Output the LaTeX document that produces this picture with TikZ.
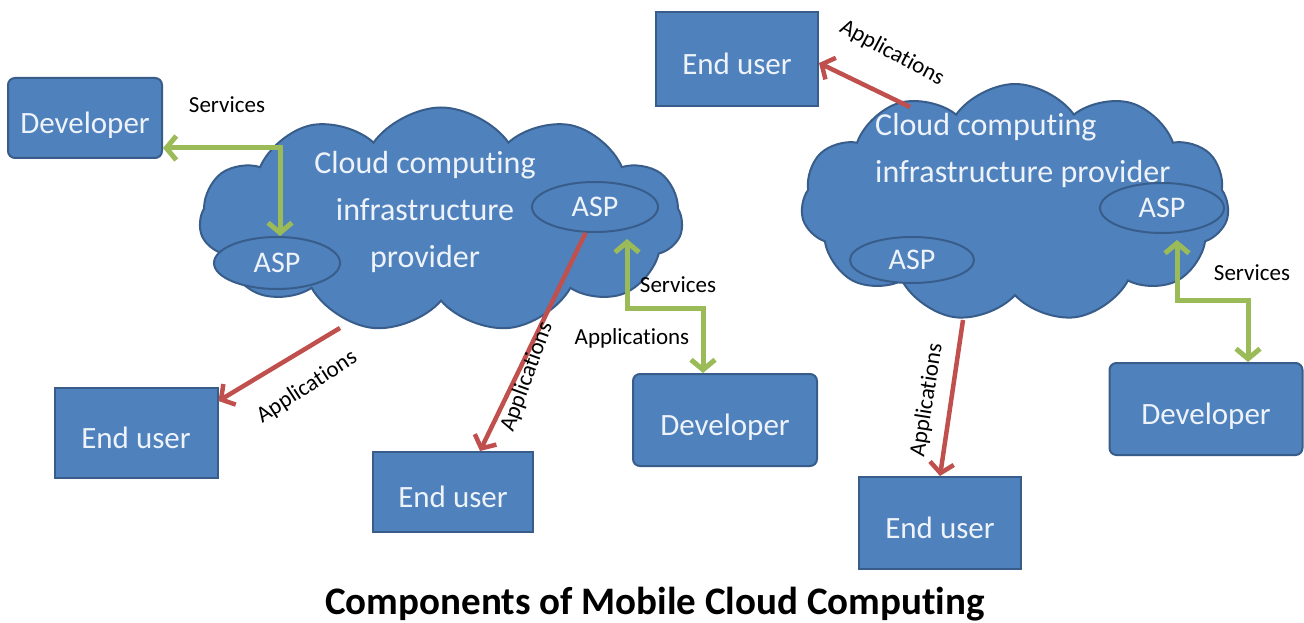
\documentclass[tikz,border=0pt]{standalone}
\usepackage{fontspec}
\setmainfont{Carlito}[Ligatures=NoCommon]
\usetikzlibrary{shapes.symbols,shapes.geometric,arrows.meta}
\definecolor{boxblue}{HTML}{4F81BD}
\definecolor{edgeblue}{HTML}{385D8A}
\definecolor{agreen}{HTML}{9BBB59}
\definecolor{ared}{HTML}{C0504D}
\definecolor{ltext}{HTML}{EEF3FA}
\begin{document}
\begin{tikzpicture}[x=1pt,y=-1pt,
  box/.style={draw=edgeblue, line width=2pt, fill=boxblue, text=ltext, font=\fontsize{31}{31}\selectfont, inner sep=0, text height=31pt, text depth=0pt},
  devbox/.style={box, rounded corners=7pt},
  cloudshape/.style={cloud, draw=edgeblue, line width=2pt, fill=boxblue, cloud puffs=11, cloud puff arc=110, inner sep=0},
  asp/.style={ellipse, draw=edgeblue, line width=2pt, fill=boxblue, text=ltext, font=\fontsize{30}{30}\selectfont, inner sep=0},
  cloudtext/.style={text=ltext, font=\fontsize{32}{47}\selectfont, inner sep=0},
  lbl/.style={text=black, font=\fontsize{23}{23}\selectfont, inner sep=1pt},
  garrow/.style={draw=agreen, line width=5pt, {Straight Barb[length=10pt,width=24pt]}-{Straight Barb[length=10pt,width=24pt]}},
  rarrow/.style={draw=ared, line width=4.5pt, -{Straight Barb[length=10pt,width=24pt]}},
]
\useasboundingbox (0,0) rectangle (1304,623);
\fill[white] (0,0) rectangle (1304,623);

% clouds
\node[cloudshape, minimum width=483pt, minimum height=225pt] (cloud1) at (441,220) {};
\node[cloudshape, minimum width=428pt, minimum height=238pt] (cloud2) at (1015,203) {};

% cloud texts
\node[cloudtext, align=center] (c1text) at (425,212) {Cloud computing\\infrastructure\\provider};
\node[cloudtext, align=left, anchor=west] (c2text) at (875,150) {Cloud computing\\infrastructure provider};

% ASP ellipses
\node[asp, minimum width=126pt, minimum height=52pt] (asp1a) at (277,263) {ASP};
\node[asp, minimum width=126pt, minimum height=50pt] (asp1b) at (595,207) {ASP};
\node[asp, minimum width=124pt, minimum height=46pt] (asp2a) at (912,260) {ASP};
\node[asp, minimum width=124pt, minimum height=50pt] (asp2b) at (1162,208) {ASP};

% boxes
\node[devbox, minimum width=154pt, minimum height=80pt] (dev1) at (85,118) {Developer};
\node[box, minimum width=163pt, minimum height=90pt] (eu1) at (136,433) {End user};
\node[box, minimum width=160pt, minimum height=80pt] (eu2) at (453,492) {End user};
\node[devbox, minimum width=184pt, minimum height=92pt] (dev2) at (725,420) {Developer};
\node[box, minimum width=162pt, minimum height=94pt] (eu3) at (737,59) {End user};
\node[box, minimum width=162pt, minimum height=92pt] (eu4) at (940,523) {End user};
\node[devbox, minimum width=193pt, minimum height=92pt] (dev3) at (1206,409) {Developer};

% connectors
\coordinate (g1) at (280,148);
\draw[garrow] (dev1.east |- g1) -- (g1) -- (g1 |- asp1a.north);

\coordinate (r1) at (340,328);
\draw[rarrow] (r1) -- ([yshift=-14pt]eu1.north east);

\draw[rarrow] (asp1b.250) -- ([xshift=27pt]eu2.north);

\coordinate (g2t) at (627,239);
\coordinate (g2a) at (627,308);
\coordinate (g2b) at (703,308);
\draw[garrow] (g2t) -- (g2a) -- (g2b) -- (g2b |- dev2.north);

\coordinate (r3) at (910,107);
\draw[rarrow] (r3) -- ([yshift=-4pt]eu3.east);

\coordinate (r4) at (963,320);
\draw[rarrow] (r4) -- (eu4.north);

\coordinate (g3t) at (1177,240);
\coordinate (g3a) at (1177,300);
\coordinate (g3b) at (1248,300);
\draw[garrow] (g3t) -- (g3a) -- (g3b) -- (g3b |- dev3.north);

% labels
\node[lbl] (s1) at (227,105) {Services};
\node[lbl, rotate=33] (a1) at (307,387) {Applications};
\node[lbl, rotate=70] (a2) at (527,377) {Applications};
\node[lbl] (s2) at (678,285) {Services};
\node[lbl] (a3) at (632,338) {Applications};
\node[lbl, rotate=-28] (a4) at (892,53) {Applications};
\node[lbl, rotate=81] (a5) at (927,400) {Applications};
\node[lbl] (s3) at (1252,273) {Services};

% caption
\node[font=\bfseries\fontsize{39}{39}\selectfont, inner sep=0] (cap) at (655,604) {Components of Mobile Cloud Computing};
\end{tikzpicture}
\end{document}
